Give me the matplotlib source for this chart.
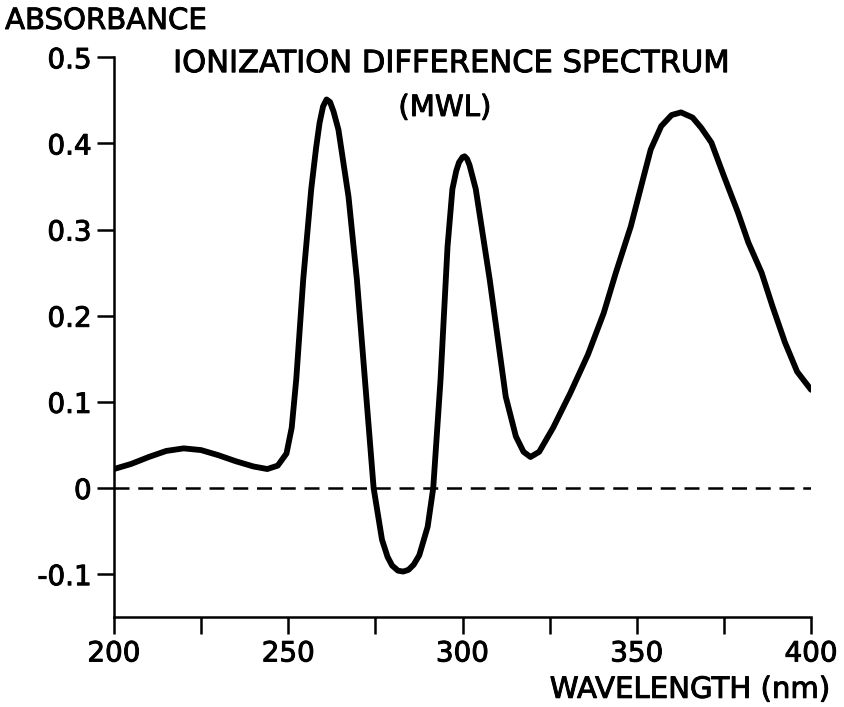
import matplotlib
matplotlib.use("Agg")
import matplotlib.pyplot as plt
import matplotlib.patheffects as pe

# wavelength (nm) and absorbance of the ionization difference spectrum
wavelength = [200, 205, 210, 215, 220, 225, 230, 235, 240, 244, 247, 249.5,
              251, 252.3, 254.3, 256.6, 258, 259, 260, 261, 262, 263, 264.4,
              267.3, 269.7, 272, 274.5, 276.9, 278.5, 279.8, 281.5, 283,
              284.5, 286, 287.6, 290, 291.6, 293.7, 295.7, 297.1, 298.2, 299,
              300, 300.6, 301.3, 302, 303.8, 307.8, 312.4, 315.3, 317.5, 319.5,
              322, 326, 330.9, 336, 340.5, 344, 348.3, 352, 354, 357, 360,
              362.7, 366, 368.5, 371.4, 375, 379, 382, 385.8, 389, 392.5, 396,
              400]
absorbance = [0.022, 0.028, 0.036, 0.043, 0.046, 0.044, 0.038, 0.031, 0.025,
              0.022, 0.026, 0.040, 0.070, 0.126, 0.242, 0.347, 0.395, 0.424,
              0.443, 0.451, 0.448, 0.437, 0.416, 0.338, 0.242, 0.126, 0.0,
              -0.060, -0.080, -0.090, -0.096, -0.097, -0.095, -0.089, -0.078,
              -0.045, 0.0, 0.126, 0.280, 0.347, 0.368, 0.378, 0.384, 0.385,
              0.382, 0.375, 0.347, 0.242, 0.106, 0.060, 0.042, 0.036, 0.042,
              0.070, 0.110, 0.155, 0.203, 0.250, 0.304, 0.362, 0.393, 0.420,
              0.433, 0.436, 0.430, 0.418, 0.401, 0.362, 0.320, 0.285, 0.250,
              0.210, 0.169, 0.135, 0.114]

x_ticks = [200, 225, 250, 275, 300, 325, 350, 375, 400]
x_labels = ["200", "", "250", "", "300", "", "350", "", "400"]
y_ticks = [0.5, 0.4, 0.3, 0.2, 0.1, 0, -0.1]
y_labels = ["0.5", "0.4", "0.3", "0.2", "0.1", "0", "-0.1"]

plt.rcParams["font.family"] = ["DejaVu Sans"]
heavy = [pe.withStroke(linewidth=0.7, foreground="black")]

fig = plt.figure(figsize=(8.44, 7.07), dpi=100)
ax = fig.add_axes([0.135, 0.127, 0.826, 0.792])

ax.plot(wavelength, absorbance, color="black", lw=4.2,
        solid_joinstyle="round", solid_capstyle="round")
ax.plot([200, 400], [0, 0], color="black", lw=1.8, dashes=(6, 3.5))

ax.set_xlim(200, 400)
ax.set_ylim(-0.15, 0.5)
ax.set_xticks(x_ticks)
ax.set_xticklabels(x_labels)
ax.set_yticks(y_ticks)
ax.set_yticklabels(y_labels)

for side in ["top", "right"]:
    ax.spines[side].set_visible(False)
for side in ["left", "bottom"]:
    ax.spines[side].set_linewidth(1.8)
ax.tick_params(axis="both", length=12, width=1.8, labelsize=20, pad=4)
for lbl in ax.get_xticklabels() + ax.get_yticklabels():
    lbl.set_path_effects(heavy)

fig.text(0.006, 0.959, "ABSORBANCE", fontsize=21, ha="left", va="baseline",
         path_effects=heavy)
fig.text(0.534, 0.898, "IONIZATION DIFFERENCE SPECTRUM", fontsize=22,
         ha="center", va="baseline", path_effects=heavy)
fig.text(0.527, 0.836, "(MWL)", fontsize=21, ha="center", va="baseline",
         path_effects=heavy)
fig.text(0.983, 0.013, "WAVELENGTH (nm)", fontsize=21, ha="right",
         va="baseline", path_effects=heavy)

fig.savefig("out.png", dpi=100)
